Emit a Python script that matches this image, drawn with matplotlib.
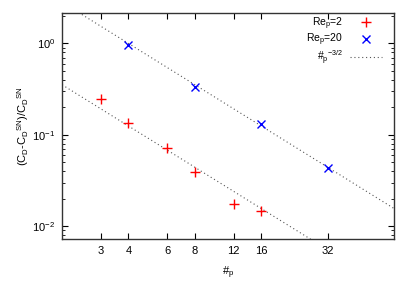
import numpy as np
import matplotlib
matplotlib.use('Agg')
import matplotlib.pyplot as plt
from matplotlib.ticker import FixedLocator, NullFormatter, LogLocator

plt.rcParams['font.family'] = ['Liberation Sans', 'DejaVu Sans']
plt.rcParams['mathtext.fontset'] = 'custom'
plt.rcParams['mathtext.rm'] = 'Liberation Sans'
plt.rcParams['mathtext.it'] = 'Liberation Sans'

# data
np_re2 = [3, 4, 6, 8, 12, 16]
cd_re2 = [0.245, 0.135, 0.072, 0.039, 0.0175, 0.0148]
np_re20 = [4, 8, 16, 32]
cd_re20 = [0.95, 0.33, 0.131, 0.043]
xtick_vals = [3, 4, 6, 8, 12, 16, 32]
fit_coefs = [8.0, 1.0]

fig = plt.figure(figsize=(4.11, 2.88), dpi=100)
ax = fig.add_axes([0.151, 0.169, 0.808, 0.785])

xs = np.logspace(np.log2(2), np.log2(64), 200, base=2)
for i, c in enumerate(fit_coefs):
    ax.plot(xs, c * xs ** -1.5, linestyle=(0, (1, 2.5)), color='#555555', lw=0.8,
            label=r'#$_\mathrm{p}$$^{\mathrm{-3/2}}$' if i == 0 else None)

ax.plot(np_re2, cd_re2, '+', color='red', ms=7, mew=1.0, ls='none', label=r'Re$_\mathrm{p}$=2')
ax.plot(np_re20, cd_re20, 'x', color='blue', ms=6, mew=1.0, ls='none', label=r'Re$_\mathrm{p}$=20')

ax.set_xscale('log', base=2)
ax.set_yscale('log')
ax.set_xlim(2, 64)
ax.set_ylim(0.0072, 2.14)

ax.xaxis.set_major_locator(FixedLocator(xtick_vals))
ax.set_xticklabels([str(v) for v in xtick_vals])
ax.xaxis.set_minor_locator(FixedLocator([]))
ax.yaxis.set_major_locator(LogLocator(base=10))
ax.yaxis.set_minor_locator(LogLocator(base=10, subs=np.arange(2, 10)))
ax.yaxis.set_minor_formatter(NullFormatter())

ax.tick_params(which='both', direction='in', top=True, right=True, labelsize=8, pad=5)
ax.tick_params(which='major', length=4)
ax.tick_params(which='minor', length=2)
for s in ax.spines.values():
    s.set_linewidth(1.0)
    s.set_color('#333333')

ax.set_xlabel(r'#$_\mathrm{p}$', fontsize=8, labelpad=6)
ax.set_ylabel(r'(C$_\mathrm{D}$-C$_\mathrm{D}$$^{\mathrm{SN}}$)/C$_\mathrm{D}$$^{\mathrm{SN}}$',
              fontsize=8, labelpad=1)

h, l = ax.get_legend_handles_labels()
order = [1, 2, 0]
leg = ax.legend([h[i] for i in order], [l[i] for i in order], loc='upper right',
                bbox_to_anchor=(0.964, 0.99), frameon=False, fontsize=7.5,
                markerfirst=False, handlelength=3.1, labelspacing=0.0,
                borderaxespad=0.0, borderpad=0.0, handletextpad=0.65)
for t in leg.get_texts():
    t.set_ha('right')

fig.savefig('out.png', dpi=100)
